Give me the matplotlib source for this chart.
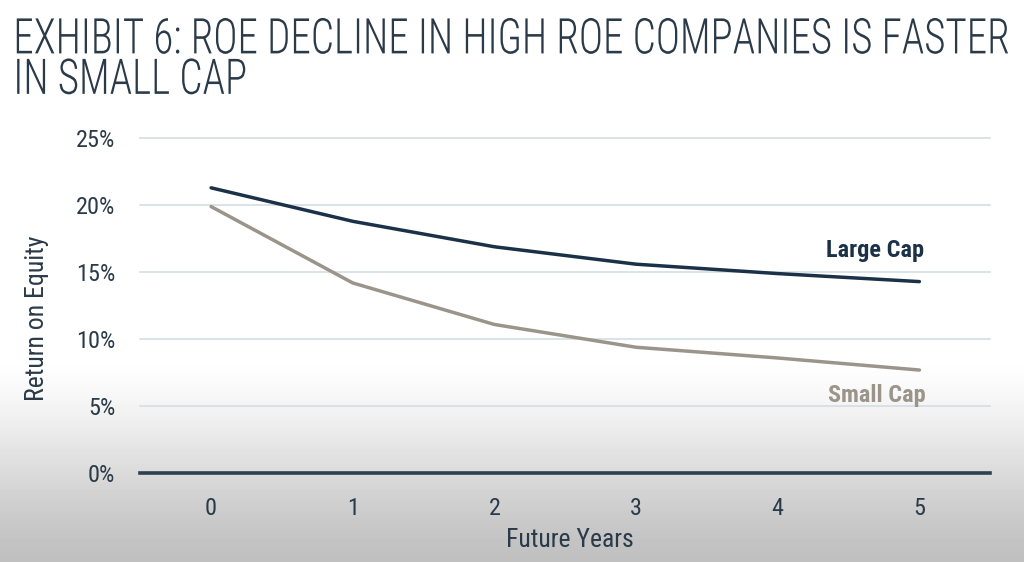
import numpy as np
import matplotlib
matplotlib.use("Agg")
import matplotlib.pyplot as plt
from matplotlib import font_manager as fm
from matplotlib.patheffects import AbstractPathEffect
from matplotlib.transforms import Affine2D

years = [0, 1, 2, 3, 4, 5]
large_cap = [21.3, 18.8, 16.9, 15.6, 14.9, 14.3]
small_cap = [19.9, 14.2, 11.1, 9.4, 8.6, 7.7]
y_ticks = [0, 5, 10, 15, 20, 25]
y_tick_labels = ["0%", "5%", "10%", "15%", "20%", "25%"]
title = "EXHIBIT 6: ROE DECLINE IN HIGH ROE COMPANIES IS FASTER\nIN SMALL CAP"

installed = {f.name for f in fm.fontManager.ttflist}
cond = None
for cand in ["Roboto Condensed", "Barlow Semi Condensed", "IBM Plex Sans Condensed", "Barlow Condensed"]:
    if cand in installed:
        cond = cand
        break
FONT = [cond, "Roboto", "DejaVu Sans"] if cond else ["Roboto", "DejaVu Sans"]

navy = "#1b3148"
taupe = "#9b948b"
textc = "#2a3a48"


class VStretch(AbstractPathEffect):
    """Stretch glyph outlines vertically about their baseline."""
    def __init__(self, sy=1.0):
        super().__init__()
        self.sy = sy

    def draw_path(self, renderer, gc, tpath, affine, rgbFace=None):
        x0, y0 = affine.transform((0, 0))
        extra = Affine2D().translate(-x0, -y0).scale(1, self.sy).translate(x0, y0)
        renderer.draw_path(gc, tpath, affine + extra, rgbFace)


fig = plt.figure(figsize=(10.24, 5.62), dpi=100)

bg = fig.add_axes([0, 0, 1, 1], zorder=-10)
h = 562
rows = np.arange(h)
start = 360
t = np.clip((rows - start) / (h - start), 0, 1)
s = t * t * (3 - 2 * t)
vals = 1.0 - 0.25 * (0.5 * s + 0.5 * t)
img = np.repeat(vals[:, None], 10, axis=1)
bg.imshow(img, cmap="gray", vmin=0, vmax=1, aspect="auto", extent=[0, 1, 0, 1], origin="upper")
bg.axis("off")

ax = fig.add_axes([0.137, 0.158, 0.830, 0.596])
ax.set_facecolor("none")
ax.plot(years, large_cap, color=navy, lw=2.5, solid_capstyle="round")
ax.plot(years, small_cap, color=taupe, lw=2.5, solid_capstyle="round")
ax.set_xlim(-0.5, 5.5)
ax.set_ylim(0, 25)
ax.set_yticks(y_ticks)
ax.set_yticklabels(y_tick_labels)
ax.set_xticks(years)
for sp in ax.spines.values():
    sp.set_visible(False)
ax.grid(axis="y", color="#d6dee2", lw=1.2)
ax.set_axisbelow(True)
ax.axhline(0, color="#2e3f4e", lw=2.6, clip_on=False)
for gl in ax.get_ygridlines():
    gl.set_clip_on(False)
ax.tick_params(length=0, labelsize=17.5, labelcolor=textc, pad=18)
ax.tick_params(axis="x", pad=17)
for lab in ax.get_xticklabels() + ax.get_yticklabels():
    lab.set_family(FONT)
ax.set_ylabel("Return on Equity", fontsize=18.5, color=textc, family=FONT)
ax.yaxis.set_label_coords(-0.107, 0.463)
ax.set_xlabel("Future Years", fontsize=18.5, color=textc, family=FONT, labelpad=6)
ax.xaxis.label.set_x(0.506)

ax.text(4.69, 16.6, "Large Cap", color=navy, fontsize=17.5, fontweight="bold", family=FONT,
        ha="center", va="center")
ax.text(4.70, 5.8, "Small Cap", color=taupe, fontsize=17.5, fontweight="bold", family=FONT,
        ha="center", va="center")

fig.text(0.013, 0.905, title.split("\n")[0], fontsize=29.5, color=textc, family=FONT,
         fontweight="light", ha="left", va="baseline", path_effects=[VStretch(1.2)])
fig.text(0.013, 0.833, title.split("\n")[1], fontsize=29.5, color=textc, family=FONT,
         fontweight="light", ha="left", va="baseline", path_effects=[VStretch(1.2)])

fig.savefig("out.png", dpi=100)
